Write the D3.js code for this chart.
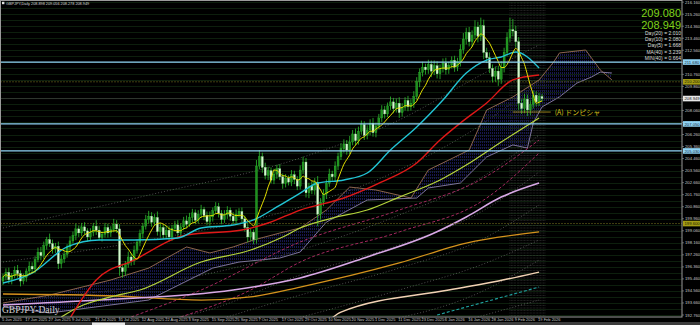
<!DOCTYPE html>
<html>
<head>
<meta charset="utf-8">
<script src="https://cdn.jsdelivr.net/npm/d3@7"></script>
<style>
    html, body { margin: 0; padding: 0; background: #000; }
    svg { display: block; }
</style>
</head>
<body>
<div id="chart"></div>
<script>
// daily closes, 5 Jun 2025 .. 20 Feb 2026 (open = previous close)
const firstOpen = 195.30;
const closes = [
    195.60,195.95,195.40,195.70,196.10,195.85,195.30,195.55,196.05,196.40,
    196.20,196.90,197.45,197.20,197.95,198.40,198.10,197.70,197.90,196.60,
    196.95,197.30,197.85,198.30,198.70,199.20,198.90,199.35,199.05,198.60,
    198.95,199.40,199.10,198.55,198.80,199.30,198.90,199.15,199.55,199.20,
    196.30,196.00,196.55,197.10,196.80,197.60,198.20,198.85,199.40,199.90,
    200.15,199.70,200.05,199.00,199.30,198.75,199.10,198.60,199.25,199.50,
    198.90,199.35,199.80,199.55,200.05,200.40,199.85,200.30,200.65,200.20,
    199.75,200.10,200.55,200.85,200.35,199.90,200.25,200.60,200.15,199.80,
    200.30,200.50,199.95,199.30,198.60,198.95,198.40,203.90,204.60,203.80,
    203.20,203.55,202.85,203.30,203.70,203.10,202.60,203.00,202.70,203.25,
    202.90,202.40,203.60,204.20,201.90,202.40,202.10,202.70,200.30,201.20,
    201.80,202.60,203.30,203.10,203.90,204.60,205.20,205.55,205.10,205.70,
    206.30,205.80,206.50,207.00,206.20,206.60,207.10,206.40,206.90,207.50,
    208.10,207.80,208.40,208.70,208.20,208.60,207.90,208.30,208.80,208.35,
    208.60,209.10,210.20,210.90,211.30,211.10,211.50,211.00,211.40,210.80,
    211.20,211.60,211.10,211.45,211.80,211.30,211.70,212.60,213.40,213.90,
    213.20,213.70,214.30,213.60,214.40,212.40,212.00,211.20,210.60,211.00,
    210.40,211.30,212.40,213.50,214.10,214.00,213.20,208.60,208.20,208.90,
    208.10,208.50,209.20,208.70,209.10,208.95
];
// wick lengths above / below the body
const wickUp = [
    .25,.30,.35,.20,.30,.40,.25,.30,.20,.35, .30,.25,.35,.40,.30,.20,.45,.30,.25,.35,
    .30,.25,.20,.35,.30,.40,.25,.30,.35,.20, .30,.25,.45,.30,.20,.35,.30,.25,.40,.30,
    .35,.30,.25,.40,.30,.35,.20,.30,.25,.35, .40,.30,.25,.45,.30,.20,.35,.30,.25,.30,
    .35,.25,.30,.40,.35,.30,.25,.30,.35,.20, .30,.40,.25,.35,.30,.25,.35,.30,.20,.30,
    .35,.25,.30,.25,.35,.30,.20,.45,.50,.30, .35,.30,.25,.40,.30,.35,.25,.30,.20,.35,
    .30,.25,.35,.40,.30,.25,.35,.30,.45,.30, .35,.30,.40,.25,.35,.30,.40,.35,.30,.45,
    .30,.40,.35,.30,.25,.35,.30,.40,.25,.30, .35,.30,.25,.40,.30,.35,.45,.30,.25,.35,
    .30,.40,.35,.30,.40,.25,.35,.30,.40,.35, .30,.35,.40,.25,.30,.35,.30,.40,.45,.35,
    .40,.35,.50,.40,.60,.45,.35,.40,.30,.35, .40,.45,.35,.40,.90,.80,.40,.35,.30,.40,
    .35,.30,.35,.30,.25,.20
];
const wickDown = [
    .30,.25,.30,.35,.20,.30,.40,.25,.30,.20, .25,.30,.20,.35,.25,.30,.25,.35,.30,.40,
    .35,.30,.25,.30,.20,.35,.30,.25,.30,.35, .25,.30,.35,.20,.30,.25,.35,.30,.20,.30,
    .60,.45,.30,.25,.35,.30,.25,.30,.35,.25, .30,.35,.25,.30,.40,.30,.25,.35,.30,.25,
    .30,.35,.25,.30,.20,.35,.30,.25,.30,.35, .25,.30,.35,.20,.30,.35,.25,.30,.35,.25,
    .30,.25,.35,.30,.40,.30,.35,.30,.25,.40, .30,.35,.25,.30,.35,.25,.40,.30,.25,.30,
    .35,.30,.25,.30,.35,.40,.30,.35,.90,.40, .30,.35,.25,.30,.35,.30,.25,.30,.35,.30,
    .25,.35,.30,.25,.35,.30,.40,.30,.35,.25, .30,.35,.25,.30,.35,.30,.40,.30,.25,.35,
    .30,.35,.25,.40,.30,.35,.30,.45,.30,.35, .40,.30,.35,.30,.25,.35,.30,.35,.30,.40,
    .35,.40,.30,.45,.35,.50,.40,.35,.45,.40, .50,.35,.40,.30,.35,.40,.45,.50,.40,.35,
    .45,.40,.30,.35,.30,.25
];

const dateLabels = ['5 Jun 2025','17 Jun 2025','27 Jun 2025','9 Jul 2025','21 Jul 2025','31 Jul 2025',
    '12 Aug 2025','22 Aug 2025','3 Sep 2025','15 Sep 2025','25 Sep 2025','7 Oct 2025',
    '17 Oct 2025','29 Oct 2025','10 Nov 2025','20 Nov 2025','1 Dec 2025','11 Dec 2025',
    '23 Dec 2025','6 Jan 2026','16 Jan 2026','28 Jan 2026','9 Feb 2026','19 Feb 2026'];
const priceTicks = [192.760,193.660,194.560,195.460,196.360,197.260,198.160,199.060,199.960,
    200.860,201.760,202.660,203.560,204.460,205.360,206.260,207.160,208.060,208.960,
    209.860,210.760,211.660,212.560,213.460,214.360,215.260,216.160];

// indicator lines as [bar, price]
const cyanLine = [[0,195.15],[10,195.90],[22,197.85],[33,198.37],[45,198.37],[60,198.52],[68,199.27],
    [79,199.49],[86,199.87],[94,200.84],[102,201.88],[108,202.63],[117,202.86],[125,203.38],
    [133,205.10],[142,206.82],[151,208.84],[159,210.86],[166,211.83],[171,212.06],[176,212.43],[184,211.23]];
const redLine = [[22,192.16],[32,195.38],[45,196.87],[63,198.74],[82,199.12],[91,199.64],[102,200.61],
    [117,201.51],[130,202.71],[142,204.13],[150,205.85],[157,207.12],[166,208.62],[175,210.34],[184,210.71]];
const limeLine = [[20,192.61],[26,193.36],[37,194.11],[47,194.63],[68,196.72],[85,197.62],[96,198.59],
    [102,199.27],[113,200.01],[125,200.61],[136,201.58],[150,202.86],[159,203.98],[171,205.70],[184,207.50]];
const lilacLine = [[0,193.51],[33,193.88],[79,194.63],[102,195.53],[125,197.10],[148,198.89],
    [159,200.09],[171,201.58],[184,202.63]];
const orangeLine = [[0,194.33],[39,194.18],[68,193.88],[85,194.11],[102,194.85],[136,196.65],
    [159,198.14],[184,198.97]];
const wheatLine = [[112,192.38],[116,192.98],[153,194.63],[170,195.30],[184,195.97]];
const tealLine = [[149,192.76],[184,194.85]];
const pinkLines = [
    [[44,192.61],[68,194.63],[102,198.22],[136,200.61],[165,203.01],[184,205.85]],
    [[61,192.61],[85,194.63],[102,196.72],[136,198.97],[165,201.36],[184,204.88]]
];
const dottedLines = [
    [[0,199.27],[50,201.73],[102,204.50],[136,207.35],[164,210.71],[184,212.96]],
    [[0,196.72],[50,198.37],[102,200.84],[136,203.61],[164,206.97],[184,210.19]],
    [[0,193.88],[50,195.00],[102,197.62],[136,200.24],[164,203.01],[184,206.22]],
    [[33,192.01],[68,192.98],[102,195.75],[136,197.99],[164,200.46],[184,203.46]],
    [[68,192.01],[102,194.25],[136,196.27],[164,198.37],[184,200.99]],
    [[92,192.01],[136,194.63],[164,196.50],[184,198.37]],
    [[123,192.01],[164,194.48],[184,196.87]],
    [[153,192.01],[184,193.88]]
];
// ichimoku cloud spans (shifted 26 bars forward)
const spanA = [[0,193.66],[16,194.25],[37,195.38],[50,196.27],[63,197.85],[71,197.40],[79,197.85],
    [86,198.37],[95,198.89],[102,199.27],[111,200.61],[119,202.33],[128,202.11],[140,201.51],
    [146,203.61],[153,204.35],[160,205.10],[166,208.09],[175,209.07],[184,210.34],[189,211.68],
    [191,212.36],[200,212.58],[205,211.09],[209,210.34]];
const spanB = [[0,193.36],[16,192.91],[37,193.51],[50,193.88],[72,196.27],[81,196.72],[95,197.02],
    [102,197.47],[111,199.71],[125,201.36],[142,201.51],[146,202.26],[157,202.63],[166,204.58],
    [175,205.48],[180,205.25],[182,207.12],[185,208.32],[191,209.07],[197,210.11],[202,210.56],
    [205,210.93],[209,210.86]];

const blueLevels = [211.680, 207.050, 205.030];
const oliveLevels = [210.200, 199.600];
const bidPrice = 208.949;
const markA = { from: 175, to: 188, price: 207.94, text: '(A)  ドンピシャ' };
const bigPrices = ['209.080', '208.949'];
const statLines = ['Day(20) = 2.010', 'Day(10) = 2.080', 'Day(5) = 1.668', 'MA(40) = 3.239', 'MIN(40) = 0.664'];

const W = 700, H = 325, plotR = 682, plotB = 317;
const font = 'Liberation Sans, Arial, sans-serif';

const x = d3.scaleLinear().domain([0, 185]).range([3, 542]);
const y = d3.scaleLinear().domain([192.76, 216.32]).range([315, 0]);

const svg = d3.select('#chart').append('svg')
    .attr('width', W)
    .attr('height', H)
    .style('background', '#000');

const defs = svg.append('defs');
defs.append('clipPath').attr('id', 'plot')
    .append('rect').attr('x', 0).attr('y', 0).attr('width', plotR).attr('height', plotB);
const hatch = defs.append('pattern').attr('id', 'hatch')
    .attr('width', 2).attr('height', 3).attr('patternUnits', 'userSpaceOnUse');
hatch.append('rect').attr('width', 1).attr('height', 2).attr('fill', '#17174f');

const g = svg.append('g').attr('clip-path', 'url(#plot)');

// grid
priceTicks.forEach(v => {
    [v, v + 0.45].forEach(p => {
        g.append('line')
            .attr('x1', 0).attr('x2', plotR)
            .attr('y1', Math.round(y(p)) + 0.5).attr('y2', Math.round(y(p)) + 0.5)
            .attr('stroke', '#163416').attr('stroke-width', 0.6);
    });
});

// vertical mesh on the last bars
d3.range(174, 186.5, 0.5).forEach(i => {
    g.append('line')
        .attr('x1', x(i)).attr('x2', x(i))
        .attr('y1', 0).attr('y2', plotB)
        .attr('stroke', '#8a8a8a').attr('stroke-width', 0.4)
        .attr('stroke-dasharray', '1,1.5').attr('opacity', 0.6);
});

const line = d3.line().x(d => x(d[0])).y(d => y(d[1]));

dottedLines.forEach(pts => {
    g.append('path').attr('d', line.curve(d3.curveMonotoneX)(pts))
        .attr('fill', 'none').attr('stroke', '#8c8c8c').attr('stroke-width', 0.7)
        .attr('stroke-dasharray', '1,2').attr('opacity', 0.8);
});

// cloud
const straight = d3.line().x(d => x(d[0])).y(d => y(d[1]));
g.append('path')
    .attr('d', straight(spanA.concat(spanB.slice().reverse())) + 'Z')
    .attr('fill', 'url(#hatch)');
g.append('path').attr('d', straight(spanA))
    .attr('fill', 'none').attr('stroke', '#9a6e52').attr('stroke-width', 0.9);
g.append('path').attr('d', straight(spanB))
    .attr('fill', 'none').attr('stroke', '#8a80a6').attr('stroke-width', 0.9);

function drawLine(pts, color, width, dash) {
    g.append('path').attr('d', line.curve(d3.curveMonotoneX)(pts))
        .attr('fill', 'none').attr('stroke', color).attr('stroke-width', width)
        .attr('stroke-dasharray', dash || null);
}

pinkLines.forEach(pts => drawLine(pts, '#a3295e', 1, '3,2'));
drawLine(tealLine, '#1fa3a0', 1.1, '3,2');
drawLine(wheatLine, '#f2d2b4', 1.4);
drawLine(orangeLine, '#d4921c', 1.3);
drawLine(lilacLine, '#d8a8e6', 1.6);

// horizontal levels
oliveLevels.forEach(p => {
    g.append('line').attr('x1', 0).attr('x2', plotR)
        .attr('y1', y(p)).attr('y2', y(p))
        .attr('stroke', '#5f5a18').attr('stroke-width', 0.7).attr('stroke-dasharray', '2,1');
});
g.append('line').attr('x1', 0).attr('x2', plotR)
    .attr('y1', y(bidPrice)).attr('y2', y(bidPrice))
    .attr('stroke', '#4a4a4a').attr('stroke-width', 0.6);

// candles
const bars = closes.map((c, i) => {
    const o = i === 0 ? firstOpen : closes[i - 1];
    return { i, o, c, h: Math.max(o, c) + wickUp[i], l: Math.min(o, c) - wickDown[i] };
});
g.selectAll('.wick').data(bars).enter().append('line')
    .attr('class', 'wick')
    .attr('x1', d => x(d.i)).attr('x2', d => x(d.i))
    .attr('y1', d => y(d.h)).attr('y2', d => y(d.l))
    .attr('stroke', '#2fbf2f').attr('stroke-width', 0.8);
g.selectAll('.body').data(bars).enter().append('rect')
    .attr('class', 'body')
    .attr('x', d => x(d.i) - 1)
    .attr('y', d => y(Math.max(d.o, d.c)))
    .attr('width', 2)
    .attr('height', d => Math.max(0.8, Math.abs(y(d.o) - y(d.c))))
    .attr('fill', d => d.c >= d.o ? '#1f8f1f' : '#d6f7d0')
    .attr('stroke', d => d.c >= d.o ? '#35c535' : '#9ee59e')
    .attr('stroke-width', 0.3);

// moving averages
const fastPeriod = 7;
const fastMA = closes.map((c, i) => [i, d3.mean(closes.slice(Math.max(0, i - fastPeriod + 1), i + 1))]);
drawLine(limeLine, '#b6d43c', 1.2);
drawLine(redLine, '#e01818', 1.4);
drawLine(cyanLine, '#22c4d4', 1.4);
drawLine(fastMA, '#e6e000', 1);

// blue levels
blueLevels.forEach(p => {
    g.append('line').attr('x1', 0).attr('x2', plotR)
        .attr('y1', y(p)).attr('y2', y(p))
        .attr('stroke', '#8fd3f4').attr('stroke-width', 1.3);
});

// (A) mark
g.append('line')
    .attr('x1', x(markA.from)).attr('x2', x(markA.to))
    .attr('y1', y(markA.price)).attr('y2', y(markA.price))
    .attr('stroke', '#b8a020').attr('stroke-width', 0.8);
g.append('text')
    .attr('x', x(markA.to) + 4).attr('y', y(markA.price) + 2.5)
    .attr('font-family', 'Noto Sans CJK JP, ' + font).attr('font-size', 7)
    .attr('fill', '#d8c21a').text(markA.text);

// frame
svg.append('rect').attr('x', 0.5).attr('y', 0.5).attr('width', plotR - 0.5).attr('height', plotB - 0.5)
    .attr('fill', 'none').attr('stroke', '#9a9a9a').attr('stroke-width', 1);

// price axis
const axisTxt = svg.append('g').attr('font-family', font).attr('font-size', 4.2).attr('fill', '#c8c8c8');
priceTicks.forEach(v => {
    const py = y(v);
    svg.append('line').attr('x1', plotR).attr('x2', plotR + 2).attr('y1', py).attr('y2', py)
        .attr('stroke', '#9a9a9a').attr('stroke-width', 0.6);
    axisTxt.append('text').attr('x', plotR + 3).attr('y', py + 1.5).text(d3.format('.3f')(v));
});
function axisBox(p, fill, color) {
    const py = y(p);
    svg.append('rect').attr('x', plotR + 1).attr('y', py - 2.8).attr('width', 17).attr('height', 5.6).attr('fill', fill);
    svg.append('text').attr('x', plotR + 2.5).attr('y', py + 1.6)
        .attr('font-family', font).attr('font-size', 4.2).attr('fill', color).text(d3.format('.3f')(p));
}
blueLevels.forEach(p => axisBox(p, '#8fd3f4', '#1a2a3a'));
oliveLevels.forEach(p => axisBox(p, '#a39b14', '#1a1a00'));
axisBox(bidPrice, '#e8e8e8', '#111');

// date axis
dateLabels.forEach((t, k) => {
    const px = x(k * 8);
    svg.append('line').attr('x1', px).attr('x2', px).attr('y1', plotB).attr('y2', plotB + 1.5)
        .attr('stroke', '#9a9a9a').attr('stroke-width', 0.5);
    svg.append('text').attr('x', px - 1).attr('y', 321)
        .attr('font-family', font).attr('font-size', 4).attr('fill', '#c8c8c8').text(t);
});

// bottom tab strip
svg.append('rect').attr('x', 0).attr('y', 322).attr('width', W).attr('height', 3).attr('fill', '#3c3c3c');
svg.append('rect').attr('x', 92).attr('y', 322.5).attr('width', 33).attr('height', 2.5).attr('fill', '#e6e6e6');

// titles
svg.append('rect').attr('x', 2).attr('y', 1.8).attr('width', 2.4).attr('height', 2.4).attr('fill', '#e0e0e0');
svg.append('text').attr('x', 6).attr('y', 4.8)
    .attr('font-family', font).attr('font-size', 3.8).attr('fill', '#d8d8d8')
    .text('GBPJPY,Daily  208.898 209.056 208.278 208.949');
svg.append('text').attr('x', 2).attr('y', 313)
    .attr('font-family', 'Liberation Serif, serif').attr('font-size', 9.5).attr('fill', '#d0d0d0')
    .text('GBPJPY-Daily');

bigPrices.forEach((t, k) => {
    svg.append('text').attr('x', 681).attr('y', 16.5 + k * 12)
        .attr('text-anchor', 'end').attr('font-family', font).attr('font-size', 11)
        .attr('fill', '#7fd41a').text(t);
});
statLines.forEach((t, k) => {
    svg.append('text').attr('x', 681).attr('y', 35 + k * 6.2)
        .attr('text-anchor', 'end').attr('font-family', font).attr('font-size', 5)
        .attr('fill', '#dcdcdc').text(t);
});
</script>
</body>
</html>
